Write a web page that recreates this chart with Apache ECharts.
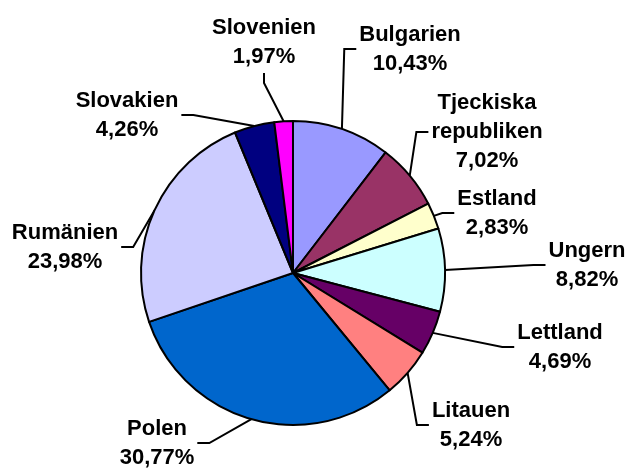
<!DOCTYPE html>
<html>
<head>
<meta charset="utf-8">
<script src="https://cdn.jsdelivr.net/npm/echarts@6/dist/echarts.min.js"></script>
<style>
  html, body { margin: 0; padding: 0; background: #fff; }
  #main { width: 629px; height: 469px; }
</style>
</head>
<body>
<div id="main"></div>
<script>
const countries = ["Bulgarien", "Tjeckiska\nrepubliken", "Estland", "Ungern", "Lettland",
    "Litauen", "Polen", "Rumänien", "Slovakien", "Slovenien"];
const shares = [10.43, 7.02, 2.83, 8.82, 4.69, 5.24, 30.77, 23.98, 4.26, 1.97];
const colors = ["#9999ff", "#993366", "#ffffcc", "#ccffff", "#660066",
    "#ff8080", "#0066cc", "#ccccff", "#000080", "#ff00ff"];

// where each label block sits (center of text)
const labelPos = [
    [410, 49], [487, 132], [497, 213], [587, 265], [560, 347],
    [471, 425], [157, 443], [65, 247], [127, 115], [264, 42]
];

const pieX = 293, pieY = 273, pieR = 152;

// slice mid angles, degrees clockwise from 12 o'clock
const total = shares.reduce((a, b) => a + b, 0);
const midAngles = [];
let acc = 0;
shares.forEach((v) => {
    midAngles.push((acc + v / 2) / total * 360);
    acc += v;
});

function edgePoint(deg) {
    const r = deg * Math.PI / 180;
    return [pieX + pieR * Math.sin(r), pieY - pieR * Math.cos(r)];
}

function leader(i, w, h) {
    const [lx, ly] = labelPos[i];
    let end, elbow;
    if (Math.abs(lx - pieX) < 50 && ly < pieY) {
        // label right above the pie: come in from below
        end = [lx, ly + h / 2 + 2];
        elbow = [lx, end[1] + 10];
    } else if (lx > pieX) {
        end = [lx - w / 2 - 3, ly];
        elbow = [end[0] - 12, ly];
    } else {
        end = [lx + w / 2 + 3, ly];
        elbow = [end[0] + 12, ly];
    }
    return [edgePoint(midAngles[i]), elbow, end];
}

const chart = echarts.init(document.getElementById("main"));

option = {
    animation: false,
    series: [
        {
            type: "pie",
            center: [pieX, pieY],
            radius: pieR,
            startAngle: 90,
            clockwise: true,
            data: countries.map((c, i) => ({
                name: c,
                value: shares[i],
                itemStyle: { color: colors[i] }
            })),
            itemStyle: {
                borderColor: "#000",
                borderWidth: 2
            },
            label: {
                show: true,
                formatter: (p) => p.name + "\n" + p.value.toFixed(2).replace(".", ",") + "%",
                fontFamily: "Liberation Sans, Arial, sans-serif",
                fontWeight: "bold",
                fontSize: 22,
                lineHeight: 29,
                color: "#000",
                align: "center",
                overflow: "none"
            },
            labelLine: {
                show: true,
                length: 15,
                length2: 10,
                lineStyle: { color: "#000", width: 2 }
            },
            labelLayout: (params) => {
                const i = params.dataIndex;
                const p = labelPos[i];
                return {
                    x: p[0],
                    y: p[1],
                    align: "center",
                    verticalAlign: "middle",
                    labelLinePoints: leader(i, params.labelRect.width, params.labelRect.height)
                };
            }
        }
    ]
};

chart.setOption(option);
</script>
</body>
</html>
